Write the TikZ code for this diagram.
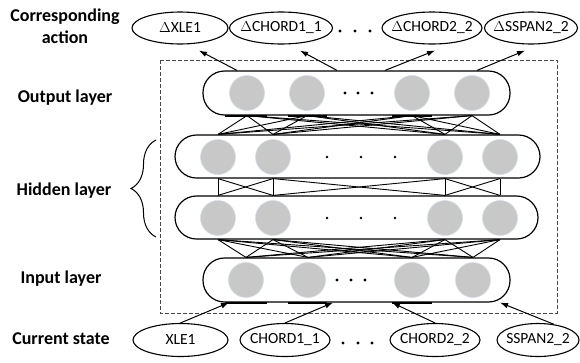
\documentclass[tikz,border=0pt]{standalone}
\usepackage{fontspec}
\setmainfont{Carlito}
\usetikzlibrary{shapes.geometric,arrows.meta,decorations.pathreplacing,calc}
\definecolor{circfill}{RGB}{200,200,200}
\definecolor{circedge}{RGB}{214,222,232}
\definecolor{boxgray}{RGB}{70,70,70}
\begin{document}
\begin{tikzpicture}[x=1pt,y=-1pt,
  layer/.style={draw, line width=1.2pt, rectangle, rounded corners=21.5pt, inner sep=0pt, fill=white},
  neuron/.style={circle, fill=circfill, draw=circedge, line width=0.6pt, minimum size=35pt, inner sep=0pt},
  ell/.style={ellipse, draw, line width=1.1pt, minimum height=32pt, inner sep=0pt, font=\fontsize{15.5}{17}\selectfont},
  lab/.style={font=\fontsize{18}{21.6}\selectfont\bfseries, align=center},
  link/.style={line width=0.9pt},
  arr/.style={line width=1pt, -{Latex[length=8pt,width=5.5pt]}},
  thickseg/.style={line width=2.2pt},
  frame/.style={draw=boxgray, line width=0.9pt, dash pattern=on 4pt off 2pt}
]
\useasboundingbox (0,0) rectangle (580,362);

% dashed frame
\draw[frame] (160,60) rectangle (557,313);

% layers
\node[layer, minimum width=307pt, minimum height=44pt] (out) at (356.5,93) {};
\node[layer, minimum width=365pt, minimum height=43pt] (h1) at (357.5,156.5) {};
\node[layer, minimum width=363pt, minimum height=43pt] (h2) at (356.5,217.5) {};
\node[layer, minimum width=307pt, minimum height=44pt] (inp) at (356.5,280) {};

% neurons
\foreach \x [count=\k] in {247,307,412,472} \node[neuron] (o\k) at (\x,93) {};
\foreach \x [count=\k] in {218,273,445,500} \node[neuron] (a\k) at (\x,157) {};
\foreach \x [count=\k] in {218,273,445,500} \node[neuron] (b\k) at (\x,218) {};
\foreach \x [count=\k] in {246,308,412,473} \node[neuron] (i\k) at (\x,280) {};

% dots
\foreach \x in {345,358,372} \fill (\x,93) circle (1.6pt);
\foreach \x in {327,361,395} \fill (\x,157) circle (1.4pt);
\foreach \x in {327,361,395} \fill (\x,218) circle (1.4pt);
\foreach \x in {337,351,365} \fill (\x,280) circle (1.6pt);
\foreach \x in {340,355,370} \fill (\x,31) circle (1.6pt);
\foreach \x in {343,358,372} \fill (\x,343) circle (1.6pt);

% output -> hidden1 links
\foreach \p in {1,...,4} \foreach \q in {1,...,4}
  \draw[link] (o\p |- out.south) -- (a\q |- h1.north);
% hidden1 -> hidden2 links
\foreach \p in {1,...,4} \draw[link] (a\p |- h1.south) -- (b\p |- h2.north);
\foreach \p/\q in {1/2,2/3,3/4} {
  \draw[link] (a\p |- h1.south) -- (b\q |- h2.north);
  \draw[link] (a\q |- h1.south) -- (b\p |- h2.north);
}
% hidden2 -> input links
\foreach \p in {1,...,4} \foreach \q in {1,...,4}
  \draw[link] (b\p |- h2.south) -- (i\q |- inp.north);

% small thick segments on layer edges
\foreach \l/\r in {225/267,288/327,392/432} {
  \coordinate (sl) at (\l,0); \coordinate (sr) at (\r,0);
  \draw[thickseg] (sl |- out.south) -- (sr |- out.south);
  \draw[thickseg] (sl |- inp.south) -- (sr |- inp.south);
}

% top ellipses
\node[ell, minimum width=96pt]  (e1) at (180,28)   {\makebox[0pt]{$\Delta$XLE1}};
\node[ell, minimum width=103pt] (e2) at (281,28)   {\makebox[0pt]{$\Delta$CHORD1\_1}};
\node[ell, minimum width=100pt] (e3) at (432,28)   {\makebox[0pt]{$\Delta$CHORD2\_2}};
\node[ell, minimum width=93pt]  (e4) at (531,28)   {\makebox[0pt]{$\Delta$SSPAN2\_2}};

% bottom ellipses
\node[ell, minimum width=95pt, minimum height=33pt] (c1) at (180.5,340) {\makebox[0pt]{XLE1}};
\node[ell, minimum width=90pt, minimum height=33pt] (c2) at (285,340)   {\makebox[0pt]{CHORD1\_1}};
\node[ell, minimum width=90pt, minimum height=33pt] (c3) at (435,340)   {\makebox[0pt]{CHORD2\_2}};
\node[ell, minimum width=82pt, minimum height=33pt] (c4) at (538,340)   {\makebox[0pt]{SSPAN2\_2}};

% top arrows
\coordinate (s1) at (237,0); \coordinate (s2) at (337,0);
\coordinate (s3) at (385,0); \coordinate (s4) at (477,0);
\draw[arr] (out.north -| s1) -- ($(e1.south)+(19,6)$);
\draw[arr] (out.north -| s2) -- ($(e2.south)+(19,6)$);
\draw[arr] (out.north -| s3) -- ($(e3.south)+(3,6)$);
\draw[arr] (out.north -| s4) -- ($(e4.south)+(-6,6)$);

% bottom arrows
\coordinate (t1) at (229,0); \coordinate (t2) at (333,0);
\coordinate (t3) at (392,0); \coordinate (t4) at (500,0);
\draw[arr] (c1.north) -- (inp.south -| t1);
\draw[arr] (c2.north) -- (inp.south -| t2);
\draw[arr] (c3.north) -- (inp.south -| t3);
\draw[arr] (c4.45) -- (inp.south -| t4);

% brace
\draw[line width=1pt, decorate, decoration={brace, amplitude=25pt}] (156,237) -- (156,140);

% labels
\node[lab] (lca) at (65,26.5) {Corresponding\\action};
\node[lab, anchor=base] (lout) at (65,102) {Output layer};
\node[lab, anchor=base] (lhid) at (64,195) {Hidden layer};
\node[lab, anchor=base] (lin) at (61,283) {Input layer};
\node[lab, anchor=base] (lcur) at (61,344) {Current state};
\end{tikzpicture}
\end{document}
